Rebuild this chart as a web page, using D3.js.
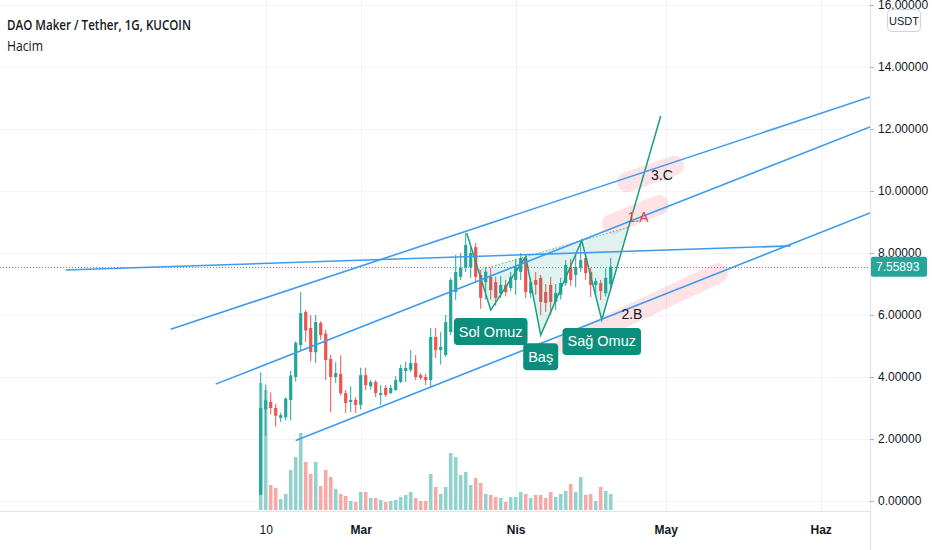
<!DOCTYPE html>
<html>
  <head>
    <meta charset="utf-8">
    <title>DAO Maker / Tether, 1G, KUCOIN</title>
    <script src="https://cdn.jsdelivr.net/npm/d3@7"></script>
    <style>
      body { margin: 0; background: #fff; }
      svg { display: block; font-family: "Liberation Sans", Arial, sans-serif; }
    </style>
  </head>
  <body>
    <svg id="chart" width="932" height="550">
      <defs>
        <clipPath id="plotClip"><rect x="0" y="0" width="870" height="511"></rect></clipPath>
      </defs>
    </svg>

    <script>
      // daily candles, first one on 9 Feb 2021
      firstDay = "2021-02-09";
      opens = [0.2, 2.95, 3.2, 3.0, 2.68, 2.7, 3.26, 4.0, 5.03, 6.1, 5.58, 4.8, 5.74, 5.4, 4.58, 4.0, 4.1, 3.48, 3.19, 3.26,
        3.1, 4.06, 3.7, 3.84, 3.42, 3.65, 3.48, 3.58, 3.84, 4.19, 4.23, 4.45, 4.06, 4.0, 3.9, 5.29, 4.87, 4.71, 5.45, 6.74,
        7.23, 7.52, 7.55, 8.19, 7.29, 7.06, 7.23, 7.06, 6.7, 6.97, 6.87, 7.13, 7.39, 7.84, 6.7, 7.13, 7.2, 6.74, 6.97, 6.42,
        6.65, 7.03, 7.55, 7.29, 7.52, 7.84, 7.39, 6.97, 7.03, 6.7, 7.0];
      highs = [4.15, 3.75, 3.5, 3.13, 2.85, 3.35, 4.2, 5.15, 6.74, 6.16, 6.0, 6.0, 5.8, 5.52, 4.71, 4.48, 4.7, 3.58, 3.7, 3.35,
        4.3, 4.3, 3.9, 3.9, 3.74, 3.74, 3.74, 4.03, 4.4, 4.5, 4.87, 4.71, 4.13, 4.1, 5.58, 5.58, 5.45, 6.0, 7.2, 7.94,
        8.0, 8.65, 8.2, 8.32, 7.45, 7.55, 7.52, 7.23, 7.26, 7.13, 7.39, 7.81, 8.0, 7.94, 7.2, 7.39, 7.29, 7.0, 7.23, 7.0,
        7.2, 7.77, 7.81, 7.94, 8.39, 8.03, 7.52, 7.2, 7.13, 7.5, 7.84];
      lows = [0.2, 2.1, 2.8, 2.4, 2.55, 2.6, 2.6, 3.85, 4.87, 5.13, 4.5, 4.45, 5.2, 3.9, 2.87, 3.81, 3.4, 2.84, 2.87, 2.84,
        2.95, 3.58, 3.6, 3.35, 3.1, 3.35, 3.45, 3.55, 3.8, 3.84, 4.16, 3.9, 3.9, 3.74, 3.65, 4.61, 4.4, 4.65, 5.35, 6.48,
        7.13, 7.39, 7.2, 7.03, 6.2, 6.5, 6.5, 6.3, 6.55, 6.6, 6.77, 6.65, 7.13, 6.55, 6.55, 6.65, 6.0, 6.1, 6.0, 6.16,
        6.5, 6.94, 6.94, 6.9, 7.39, 7.13, 6.58, 6.65, 6.48, 6.6, 6.87];
      closes = [3.0, 3.25, 3.0, 2.75, 2.77, 3.3, 4.05, 5.1, 6.06, 5.5, 4.8, 5.77, 5.35, 4.55, 4.0, 4.13, 3.48, 3.16, 3.26, 3.1,
        4.06, 3.74, 3.84, 3.48, 3.48, 3.42, 3.65, 3.9, 4.29, 4.29, 4.45, 4.0, 3.97, 3.9, 5.29, 4.87, 4.97, 5.77, 7.13, 7.39,
        7.52, 8.26, 8.0, 7.23, 6.55, 7.4, 6.8, 6.55, 6.97, 6.74, 7.23, 7.55, 7.84, 6.74, 7.06, 6.97, 6.42, 6.39, 6.42, 6.71,
        7.03, 7.61, 7.13, 7.55, 7.77, 7.35, 6.97, 7.1, 6.77, 7.2, 7.55893];
      volumes = [127, 120, 25, 22, 11, 16, 40, 53, 77, 48, 36, 48, 24, 40, 33, 21, 16, 14, 9, 8,
        18, 18, 12, 12, 10, 8, 9, 10, 13, 15, 18, 12, 9, 9, 36, 23, 16, 23, 57, 53,
        35, 38, 25, 32, 27, 16, 15, 13, 12, 8, 13, 13, 18, 16, 12, 15, 15, 12, 18, 13,
        16, 19, 26, 18, 33, 15, 16, 9, 23, 19, 16];

      // axes
      priceTicks = [0, 2, 4, 6, 8, 10, 12, 14, 16];
      timeTicks = ["2021-02-10", "2021-03-01", "2021-04-01", "2021-05-01", "2021-06-01"];
      timeTickLabels = ["10", "Mar", "Nis", "May", "Haz"];

      // drawings (date, price)
      channelRays = [
        [["2021-01-22", 5.54], ["2021-05-31", 12.45]],
        [["2021-01-31", 3.77], ["2021-05-31", 11.38]],
        [["2021-02-16", 1.95], ["2021-05-31", 8.6]]
      ];
      flatLine = [["2021-01-01", 7.45], ["2021-05-26", 8.23]];
      patternPoints = [["2021-03-22T05:00:00Z", 8.64], ["2021-03-27", 6.16], ["2021-04-03", 7.88], ["2021-04-06", 5.35],
        ["2021-04-14T05:00:00Z", 8.4], ["2021-04-18T05:00:00Z", 5.84], ["2021-04-30", 12.42]];
      patternLabels = ["Sol Omuz", "Baş", "Sağ Omuz"];
      highlights = [
        [["2021-04-23T06:00:00Z", 10.29], ["2021-05-02T16:00:00Z", 10.81]],
        [["2021-04-20T06:00:00Z", 8.94], ["2021-04-29T16:00:00Z", 9.55]],
        [["2021-04-11", 5.03], ["2021-05-11T11:00:00Z", 7.35]]
      ];
      notes = [
        { text: "3.C", at: ["2021-04-30T06:00:00Z", 10.52], colour: "#131722" },
        { text: "1.A", at: ["2021-04-25T11:00:00Z", 9.16], colour: "#e0404a" },
        { text: "2.B", at: ["2021-04-24T06:00:00Z", 6.03], colour: "#131722" }
      ];

      // elements
      svg = d3.select("#chart");
      plot = svg.append("g").attr("clip-path", "url(#plotClip)");

      day = d3.isoParse;
      dates = d3.utcDay.range(day(firstDay), d3.utcDay.offset(day(firstDay), closes.length));
      candles = dates.map(function(d, i) {
        return { date: d, o: opens[i], h: highs[i], l: lows[i], c: closes[i], v: volumes[i] };
      });

      x = d3.scaleUtc()
        .domain([day(timeTicks[0]), day(timeTicks[timeTicks.length - 1])])
        .range([265.7, 820.7]);
      y = d3.scaleLinear()
        .domain([0, 16])
        .range([501, 5]);
      vol = d3.scaleLinear()
        .domain([0, d3.max(volumes)])
        .range([510, 383]);

      px = function(p) { return [x(day(p[0])), y(p[1])]; };

      // grid
      plot.selectAll(".hGrid")
        .data(priceTicks)
      .enter().append("line")
        .attr("x1", 0).attr("x2", 870)
        .attr("y1", function(d) { return Math.round(y(d)) + .5; })
        .attr("y2", function(d) { return Math.round(y(d)) + .5; })
        .attr("stroke", "#f0f3fa");
      plot.selectAll(".vGrid")
        .data(timeTicks)
      .enter().append("line")
        .attr("x1", function(d) { return Math.round(x(day(d))) + .5; })
        .attr("x2", function(d) { return Math.round(x(day(d))) + .5; })
        .attr("y1", 0).attr("y2", 511)
        .attr("stroke", "#f0f3fa");

      // volume
      plot.selectAll(".volume")
        .data(candles)
      .enter().append("rect")
        .attr("x", function(d) { return x(d.date) - 1.8; })
        .attr("width", 3.6)
        .attr("y", function(d) { return vol(d.v); })
        .attr("height", function(d) { return 510 - vol(d.v); })
        .attr("fill", function(d) { return d.c >= d.o ? "#92d2cc" : "#f7a9a7"; });

      // candles
      candleGroup = plot.selectAll(".candle")
        .data(candles)
      .enter().append("g");
      candleGroup.append("line")
        .attr("x1", function(d) { return x(d.date); })
        .attr("x2", function(d) { return x(d.date); })
        .attr("y1", function(d) { return y(d.h); })
        .attr("y2", function(d) { return y(d.l); })
        .attr("stroke", function(d) { return d.c >= d.o ? "#26a69a" : "#ef5350"; })
        .attr("stroke-width", 1);
      candleGroup.append("rect")
        .attr("x", function(d) { return x(d.date) - 1.6; })
        .attr("width", 3.2)
        .attr("y", function(d) { return y(Math.max(d.o, d.c)); })
        .attr("height", function(d) { return Math.max(1, Math.abs(y(d.o) - y(d.c))); })
        .attr("fill", function(d) { return d.c >= d.o ? "#26a69a" : "#ef5350"; });

      // pink highlights
      plot.selectAll(".highlight")
        .data(highlights)
      .enter().append("line")
        .attr("x1", function(d) { return px(d[0])[0]; })
        .attr("y1", function(d) { return px(d[0])[1]; })
        .attr("x2", function(d) { return px(d[1])[0]; })
        .attr("y2", function(d) { return px(d[1])[1]; })
        .attr("stroke", "rgba(242, 54, 69, 0.14)")
        .attr("stroke-width", 20)
        .attr("stroke-linecap", "round");

      // head and shoulders
      pts = patternPoints.map(px);
      cross = function(a, b, c, d) {
        // intersection of line ab with line cd
        var den = (a[0] - b[0]) * (c[1] - d[1]) - (a[1] - b[1]) * (c[0] - d[0]),
            t = ((a[0] - c[0]) * (c[1] - d[1]) - (a[1] - c[1]) * (c[0] - d[0])) / den;
        return [a[0] + t * (b[0] - a[0]), a[1] + t * (b[1] - a[1])];
      };
      neckLeft = cross(pts[2], pts[4], pts[0], pts[1]);
      neckRight = cross(pts[2], pts[4], pts[5], pts[6]);
      plot.selectAll(".patternFill")
        .data([[neckLeft, pts[1], pts[2]], [pts[2], pts[3], pts[4]], [pts[4], pts[5], neckRight]])
      .enter().append("path")
        .attr("d", function(d) { return "M" + d.join("L") + "Z"; })
        .attr("fill", "rgba(8, 153, 129, 0.13)");
      plot.append("path")
        .attr("d", d3.line()([neckLeft, pts[2], pts[4], neckRight]))
        .attr("fill", "none")
        .attr("stroke", "#5aa898")
        .attr("stroke-width", 1)
        .attr("stroke-dasharray", "1.5,2");
      plot.append("path")
        .attr("d", d3.line()(pts))
        .attr("fill", "none")
        .attr("stroke", "#17a07f")
        .attr("stroke-width", 1.5);

      // trend lines
      rayEnd = function(a, b) {
        var t = (870 - a[0]) / (b[0] - a[0]);
        return [870, a[1] + t * (b[1] - a[1])];
      };
      plot.selectAll(".ray")
        .data(channelRays)
      .enter().append("line")
        .attr("x1", function(d) { return px(d[0])[0]; })
        .attr("y1", function(d) { return px(d[0])[1]; })
        .attr("x2", function(d) { return rayEnd(px(d[0]), px(d[1]))[0]; })
        .attr("y2", function(d) { return rayEnd(px(d[0]), px(d[1]))[1]; })
        .attr("stroke", "#3d9bf0")
        .attr("stroke-width", 1.6);
      plot.append("line")
        .attr("x1", px(flatLine[0])[0]).attr("y1", px(flatLine[0])[1])
        .attr("x2", px(flatLine[1])[0]).attr("y2", px(flatLine[1])[1])
        .attr("stroke", "#3d9bf0")
        .attr("stroke-width", 1.6);

      // current price line
      lastClose = closes[closes.length - 1];
      plot.append("line")
        .attr("x1", 0).attr("x2", 870)
        .attr("y1", Math.round(y(lastClose)) + .5)
        .attr("y2", Math.round(y(lastClose)) + .5)
        .attr("stroke", "#26a69a")
        .attr("stroke-dasharray", "1,2");

      // pattern labels
      labelGroup = plot.selectAll(".patternLabel")
        .data(patternLabels)
      .enter().append("g")
        .attr("transform", function(d, i) {
          var p = pts[1 + 2 * i];
          return "translate(" + p[0] + "," + (p[1] + 8) + ")";
        });
      labelText = labelGroup.append("text")
        .attr("text-anchor", "middle")
        .attr("y", 18.5)
        .attr("fill", "#fff")
        .style("font-size", "14.5px")
        .text(function(d) { return d; });
      labelText.each(function() {
        var b = this.getBBox();
        d3.select(this.parentNode).insert("rect", "text")
          .attr("x", b.x - 5).attr("width", b.width + 10)
          .attr("y", 0).attr("height", 27)
          .attr("rx", 4)
          .attr("fill", "#0b8e7c");
      });

      // notes
      plot.selectAll(".note")
        .data(notes)
      .enter().append("text")
        .attr("x", function(d) { return px(d.at)[0]; })
        .attr("y", function(d) { return px(d.at)[1] + 5; })
        .attr("text-anchor", "middle")
        .attr("fill", function(d) { return d.colour; })
        .style("font-size", "14px")
        .text(function(d) { return d.text; });

      // borders
      svg.append("line")
        .attr("x1", 870.5).attr("x2", 870.5)
        .attr("y1", 0).attr("y2", 550)
        .attr("stroke", "#e0e3eb");
      svg.append("line")
        .attr("x1", 0).attr("x2", 870)
        .attr("y1", 511.5).attr("y2", 511.5)
        .attr("stroke", "#e0e3eb");

      // price axis
      priceAxis = svg.append("g")
        .attr("transform", "translate(870,0)")
        .call(d3.axisRight(y)
          .tickValues(priceTicks)
          .tickSize(4)
          .tickPadding(4)
          .tickFormat(d3.format(".5f")));
      priceAxis.select(".domain").remove();
      priceAxis.selectAll("line").attr("stroke", "#b2b5be");
      priceAxis.selectAll("text")
        .attr("fill", "#131722")
        .style("font-size", "12px")
        .style("font-family", "Liberation Sans, Arial, sans-serif");

      // last price tag
      svg.append("rect")
        .attr("x", 871).attr("width", 56)
        .attr("y", y(lastClose) - 10).attr("height", 20)
        .attr("rx", 2)
        .attr("fill", "#26a69a");
      svg.append("text")
        .attr("x", 876).attr("y", y(lastClose) + 4.5)
        .attr("fill", "#fff")
        .style("font-size", "12px")
        .text(d3.format(".5f")(lastClose));

      // currency badge
      svg.append("rect")
        .attr("x", 887.5).attr("y", 9.5)
        .attr("width", 33).attr("height", 22)
        .attr("rx", 4)
        .attr("fill", "#fff")
        .attr("stroke", "#d1d4dc");
      svg.append("text")
        .attr("x", 904).attr("y", 24.5)
        .attr("text-anchor", "middle")
        .attr("fill", "#131722")
        .style("font-size", "11px")
        .text("USDT");

      // time axis
      timeAxis = svg.append("g")
        .attr("transform", "translate(0,511)")
        .call(d3.axisBottom(x)
          .tickValues(timeTicks.map(day))
          .tickSize(0)
          .tickPadding(14)
          .tickFormat(function(d, i) { return timeTickLabels[i]; }));
      timeAxis.select(".domain").remove();
      timeAxis.selectAll("text")
        .attr("fill", "#131722")
        .style("font-size", "12px")
        .style("font-family", "Liberation Sans, Arial, sans-serif")
        .style("font-weight", function(d, i) { return i > 0 ? "bold" : "normal"; });

      // legend
      svg.append("text")
        .attr("x", 7).attr("y", 30)
        .attr("fill", "#131722")
        .attr("textLength", 184)
        .attr("lengthAdjust", "spacingAndGlyphs")
        .style("font-size", "15px")
        .style("font-family", "'Open Sans', 'Liberation Sans', sans-serif")
        .style("font-weight", "600")
        .text("DAO Maker / Tether, 1G, KUCOIN");
      svg.append("text")
        .attr("x", 7).attr("y", 51)
        .attr("fill", "#131722")
        .attr("textLength", 36)
        .attr("lengthAdjust", "spacingAndGlyphs")
        .style("font-size", "15px")
        .style("font-family", "'Open Sans', 'Liberation Sans', sans-serif")
        .text("Hacim");
    </script>
  </body>
</html>
